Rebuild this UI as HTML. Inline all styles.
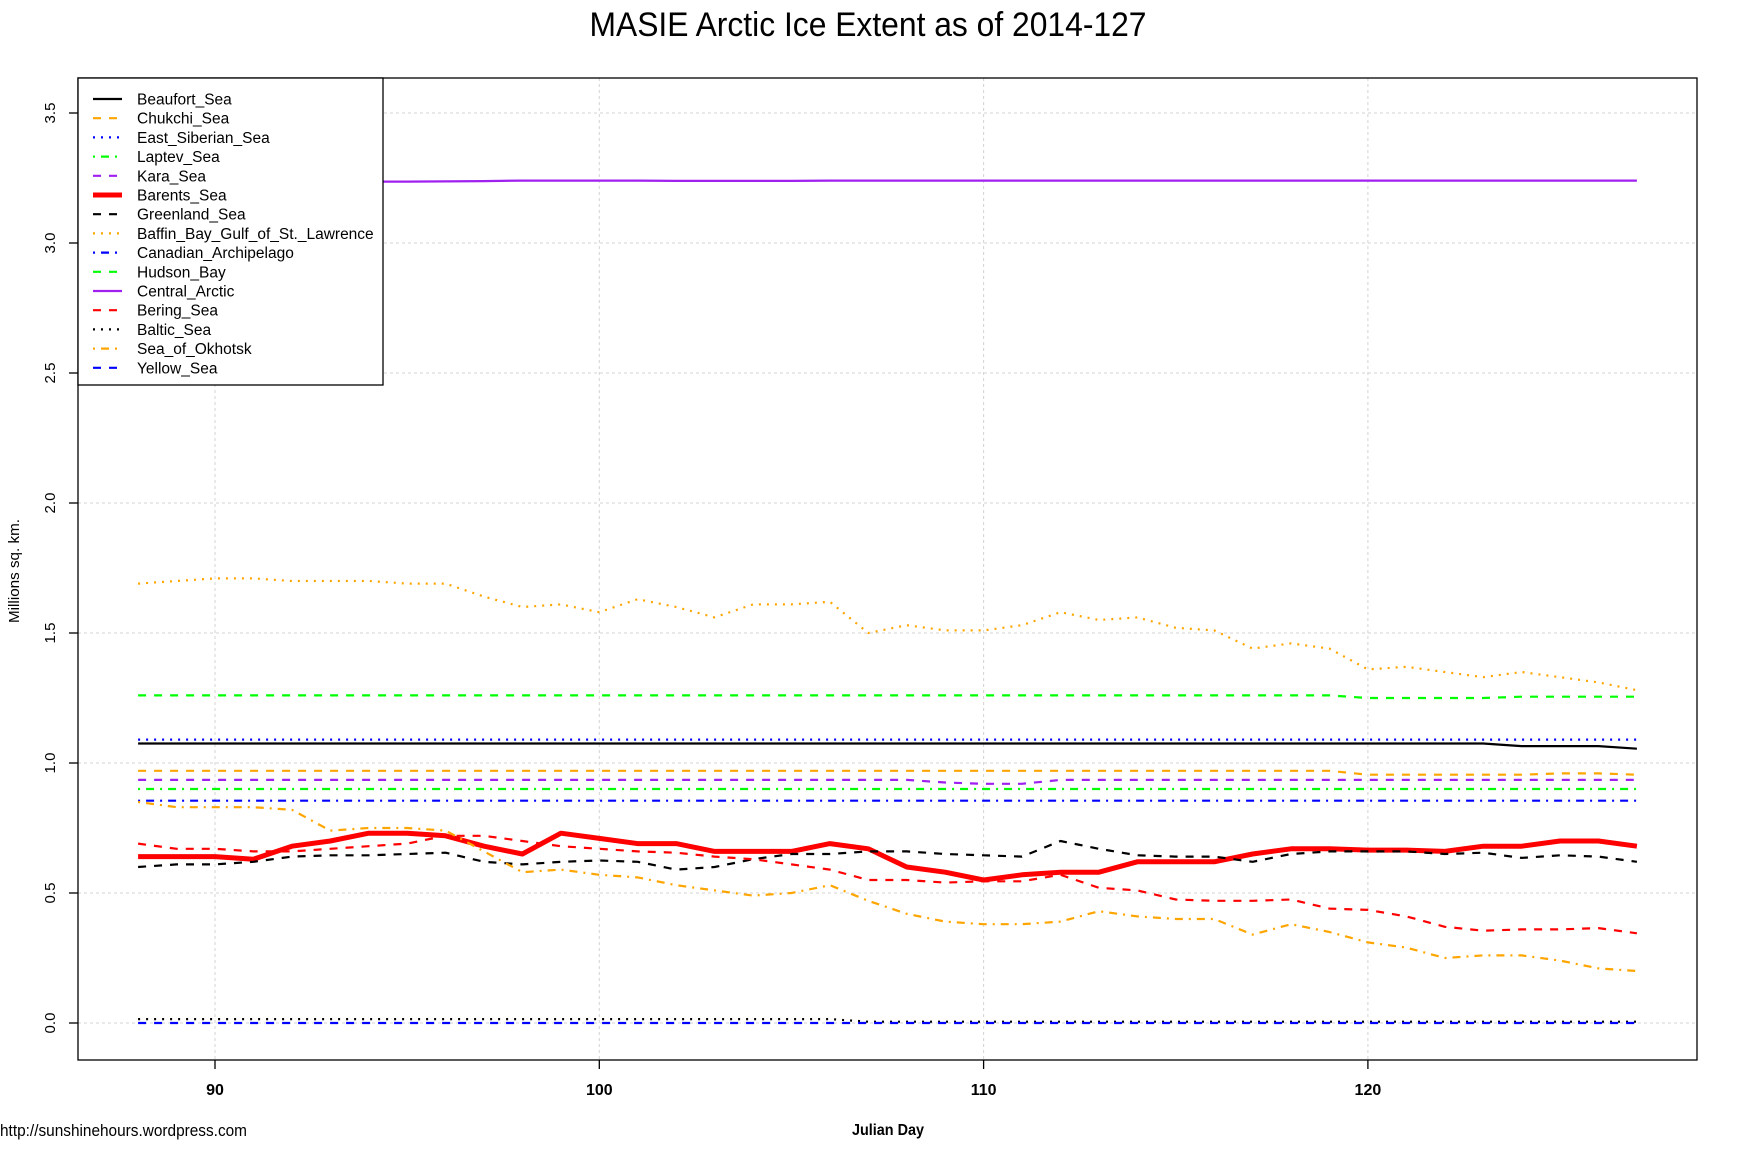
<!DOCTYPE html>
<html><head><meta charset="utf-8"><style>html,body{margin:0;padding:0;background:#fff}svg{display:block}</style></head>
<body>
<svg id="s" width="1738" height="1158" xmlns="http://www.w3.org/2000/svg" font-family="Liberation Sans, sans-serif">
<rect width="1738" height="1158" fill="#fff"/>
<text x="868" y="36" font-size="34" text-anchor="middle" textLength="557" lengthAdjust="spacingAndGlyphs">MASIE Arctic Ice Extent as of 2014-127</text>
<g id="grid" stroke="#d3d3d3" stroke-width="1" stroke-dasharray="3,3"></g>
<g id="series" fill="none" stroke-linejoin="round"></g>
<rect x="78" y="78" width="1619" height="982" fill="none" stroke="#000" stroke-width="1.3"/>
<g id="axes"></g>
<rect x="78" y="78" width="305" height="307" fill="#fff" stroke="#000" stroke-width="1.3"/>
<g id="legend"></g>
<text x="14" y="571" font-size="15" text-anchor="middle" transform="rotate(-90 14 571)" dy="5" textLength="104" lengthAdjust="spacingAndGlyphs">Millions sq. km.</text>
<text x="888" y="1135" font-size="16" font-weight="bold" text-anchor="middle" textLength="72" lengthAdjust="spacingAndGlyphs">Julian Day</text>
<text x="0" y="1136" font-size="17" textLength="247" lengthAdjust="spacingAndGlyphs">http://sunshinehours.wordpress.com</text>
</svg>
<script>
var NS="http://www.w3.org/2000/svg";
function X(d){return 215+(d-90)*38.43;}
function Y(v){return 1023-260*v;}
function el(p,t,a,txt){var e=document.createElementNS(NS,t);for(var k in a)e.setAttribute(k,a[k]);if(txt!==undefined)e.textContent=txt;document.getElementById(p).appendChild(e);return e;}
[90,100,110,120].forEach(function(d){el("grid","line",{x1:X(d),x2:X(d),y1:78,y2:1060});
 el("axes","line",{x1:X(d),x2:X(d),y1:1060,y2:1069,stroke:"#000","stroke-width":1.3});
 el("axes","text",{x:X(d),y:1095,"font-size":16,"font-weight":"bold","text-anchor":"middle"},String(d));});
[0,0.5,1,1.5,2,2.5,3,3.5].forEach(function(v){el("grid","line",{x1:78,x2:1697,y1:Y(v),y2:Y(v)});
 el("axes","line",{x1:69,x2:78,y1:Y(v),y2:Y(v),stroke:"#000","stroke-width":1.3});
 el("axes","text",{x:50,y:Y(v),"font-size":15,"text-anchor":"middle",dy:5,transform:"rotate(-90 50 "+Y(v)+")"},v.toFixed(1));});
function c(v,n){var a=[];for(var i=0;i<n;i++)a.push(v);return a;}
var days=[];for(var d=88;d<=127;d++)days.push(d);
var baffin=[1.69,1.70,1.71,1.71,1.70,1.70,1.70,1.69,1.69,1.64,1.60,1.61,1.58,1.63,1.60,1.56,1.61,1.61,1.62,1.50,1.53,1.51,1.51,1.53,1.58,1.55,1.56,1.52,1.51,1.44,1.46,1.44,1.36,1.37,1.35,1.33,1.35,1.33,1.31,1.28];
var hudson=c(1.26,32).concat([1.25,1.25,1.25,1.25,1.255,1.255,1.255,1.255]);
var esib=c(1.09,40);
var beau=c(1.075,36).concat([1.065,1.065,1.065,1.055]);
var chuk=c(0.97,32).concat([0.955,0.955,0.955,0.955,0.955,0.96,0.96,0.955]);
var kara=c(0.935,21).concat([0.925,0.92,0.92]).concat(c(0.935,16));
var lapt=c(0.90,40);
var cana=c(0.855,40);
var bar=[0.64,0.64,0.64,0.63,0.68,0.70,0.73,0.73,0.72,0.68,0.65,0.73,0.71,0.69,0.69,0.66,0.66,0.66,0.69,0.67,0.60,0.58,0.55,0.57,0.58,0.58,0.62,0.62,0.62,0.65,0.67,0.67,0.665,0.665,0.66,0.68,0.68,0.70,0.70,0.68];
var gre=[0.60,0.61,0.61,0.62,0.64,0.645,0.645,0.65,0.655,0.62,0.61,0.62,0.625,0.62,0.59,0.60,0.63,0.65,0.65,0.66,0.66,0.65,0.645,0.64,0.70,0.67,0.645,0.64,0.64,0.62,0.65,0.66,0.66,0.66,0.65,0.655,0.635,0.645,0.64,0.62];
var ber=[0.69,0.67,0.67,0.66,0.66,0.67,0.68,0.69,0.72,0.72,0.70,0.68,0.67,0.66,0.655,0.64,0.63,0.61,0.59,0.55,0.55,0.54,0.545,0.545,0.57,0.52,0.51,0.475,0.47,0.47,0.475,0.44,0.435,0.41,0.37,0.355,0.36,0.36,0.365,0.345];
var okh=[0.85,0.83,0.83,0.83,0.82,0.74,0.75,0.75,0.74,0.66,0.58,0.59,0.57,0.56,0.53,0.51,0.49,0.50,0.53,0.47,0.42,0.39,0.38,0.38,0.39,0.43,0.41,0.40,0.40,0.34,0.38,0.35,0.31,0.29,0.25,0.26,0.26,0.24,0.21,0.20];
var cen=[3.218,3.22,3.222,3.226,3.23,3.234,3.236,3.236,3.237,3.238,3.24,3.24,3.24,3.24,3.239,3.239,3.239,3.239,3.24].concat(c(3.24,21));
var bal=c(0.015,19).concat(c(0.005,21));
var yel=c(0,40);
var D="8,8",DOT="2,6",DD="2,6,8,6";
var S=[
["Beaufort_Sea",beau,"#000",2.2,""],
["Chukchi_Sea",chuk,"#FFA500",2.2,D],
["East_Siberian_Sea",esib,"#0000FF",2.2,DOT],
["Laptev_Sea",lapt,"#00FF00",2.2,DD],
["Kara_Sea",kara,"#A020F0",2.2,D],
["Barents_Sea",bar,"#FF0000",5,""],
["Greenland_Sea",gre,"#000",2.2,D],
["Baffin_Bay_Gulf_of_St._Lawrence",baffin,"#FFA500",2.2,DOT],
["Canadian_Archipelago",cana,"#0000FF",2.2,DD],
["Hudson_Bay",hudson,"#00FF00",2.2,D],
["Central_Arctic",cen,"#A020F0",2.2,""],
["Bering_Sea",ber,"#FF0000",2.2,D],
["Baltic_Sea",bal,"#000",2.2,DOT],
["Sea_of_Okhotsk",okh,"#FFA500",2.2,DD],
["Yellow_Sea",yel,"#0000FF",2.2,D]];
S.forEach(function(s,i){
 var pts=s[1].map(function(v,j){return X(days[j]).toFixed(1)+","+Y(v).toFixed(1);}).join(" ");
 var a={points:pts,stroke:s[2],"stroke-width":s[3]};if(s[4])a["stroke-dasharray"]=s[4];
 el("series","polyline",a);
 var y=99+i*19.2;
 var b={x1:93,x2:122,y1:y,y2:y,stroke:s[2],"stroke-width":s[3]};if(s[4])b["stroke-dasharray"]=s[4];
 el("legend","line",b);
 el("legend","text",{x:137,y:y+5.5,"font-size":15.5},s[0]);
});
</script>
</body></html>
